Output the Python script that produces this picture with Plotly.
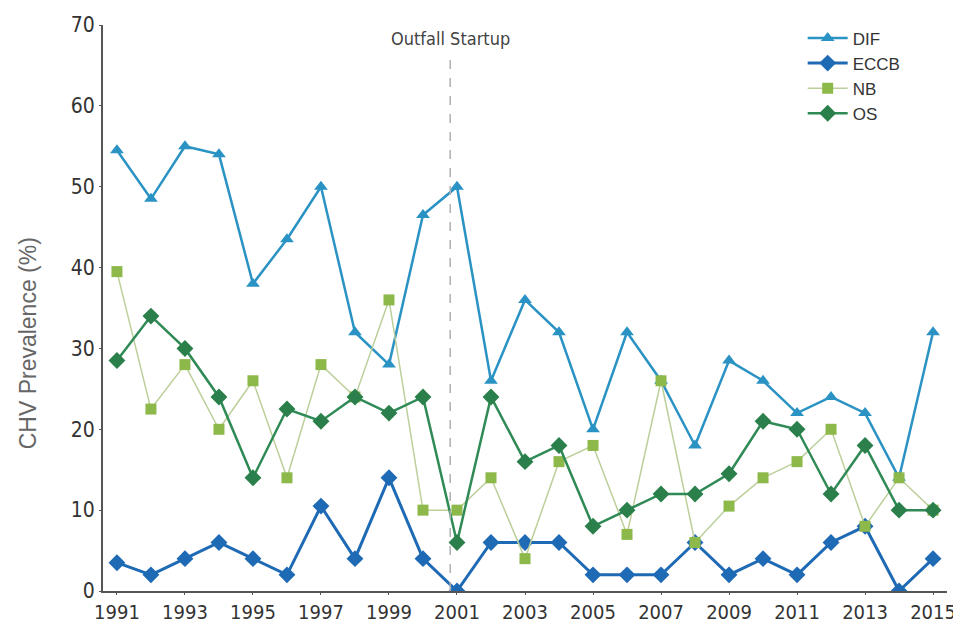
import plotly.graph_objects as go

years = list(range(1991, 2016))
dif = [54.5, 48.5, 55, 54, 38, 43.5, 50, 32, 28, 46.5, 50, 26, 36, 32, 20, 32, 26, 18, 28.5, 26, 22, 24, 22, 14, 32]
eccb = [3.5, 2, 4, 6, 4, 2, 10.5, 4, 14, 4, 0, 6, 6, 6, 2, 2, 2, 6, 2, 4, 2, 6, 8, 0, 4]
nb = [39.5, 22.5, 28, 20, 26, 14, 28, 24, 36, 10, 10, 14, 4, 16, 18, 7, 26, 6, 10.5, 14, 16, 20, 8, 14, 10]
os_ = [28.5, 34, 30, 24, 14, 22.5, 21, 24, 22, 24, 6, 24, 16, 18, 8, 10, 12, 12, 14.5, 21, 20, 12, 18, 10, 10]
startup_year = 2000.8
tick_years = list(range(1991, 2016, 2))
y_ticks = list(range(0, 71, 10))

FONT = "DejaVu Sans Condensed, Liberation Sans Narrow, Arial Narrow, sans-serif"
TFONT = "Liberation Sans, Arial, sans-serif"

fig = go.Figure()
fig.add_trace(go.Scatter(x=years, y=dif, name="DIF", mode="lines+markers",
                         line=dict(color="#2a93c4", width=2.5),
                         marker=dict(symbol="triangle-up", size=12, color="#2a93c4")))
fig.add_trace(go.Scatter(x=years, y=eccb, name="ECCB", mode="lines+markers",
                         line=dict(color="#1f6ab4", width=3),
                         marker=dict(symbol="diamond", size=13, color="#1f6ab4")))
fig.add_trace(go.Scatter(x=years, y=nb, name="NB", mode="lines+markers",
                         line=dict(color="#bccf9a", width=1.5),
                         marker=dict(symbol="square", size=11, color="#8db84a")))
fig.add_trace(go.Scatter(x=years, y=os_, name="OS", mode="lines+markers",
                         line=dict(color="#2f8a55", width=2.5),
                         marker=dict(symbol="diamond", size=13, color="#2a7f4a")))

fig.add_shape(type="line", x0=startup_year, x1=startup_year, y0=0, y1=66,
              xref="x", yref="y", line=dict(color="#b0b0b0", width=1.5, dash="dash"))
fig.add_annotation(x=startup_year, y=68.3, xref="x", yref="y", text="Outfall Startup",
                   showarrow=False, font=dict(family=FONT, size=18, color="#444444"))
fig.add_annotation(x=0, y=0.4376, xref="paper", yref="paper", xshift=-75,
                   xanchor="center", yanchor="middle", textangle=-90,
                   text="CHV Prevalence (%)", showarrow=False,
                   font=dict(family=TFONT, size=23, color="#666666"))

# the page body adds an 8px margin; the figure is sized to end at the window edge
fig.update_layout(
    width=953, height=616,
    margin=dict(l=95, r=14, t=14, b=33),
    paper_bgcolor="white", plot_bgcolor="white",
    font=dict(family=FONT, color="#333333"),
    showlegend=True,
    legend=dict(x=0.829, y=1.008, xanchor="left", yanchor="top",
                bgcolor="rgba(0,0,0,0)", font=dict(family=TFONT, size=17, color="#333333"),
                itemwidth=40, tracegroupgap=0),
    xaxis=dict(range=[1990.59, 2015.41], tickmode="array", tickvals=tick_years,
               ticktext=[str(y) for y in tick_years], showgrid=False, zeroline=False,
               showline=True, linecolor="#555555", linewidth=2, ticks="outside",
               ticklen=2, tickcolor="#555555", automargin=False,
               tickfont=dict(family=FONT, size=20, color="#333333")),
    yaxis=dict(range=[0, 70], tickvals=y_ticks, showgrid=False, zeroline=False,
               showline=True, linecolor="#555555", linewidth=2, ticks="outside",
               ticklen=2, tickcolor="#555555", automargin=False,
               tickfont=dict(family=FONT, size=21, color="#333333")),
)

fig.write_html("out.html")
